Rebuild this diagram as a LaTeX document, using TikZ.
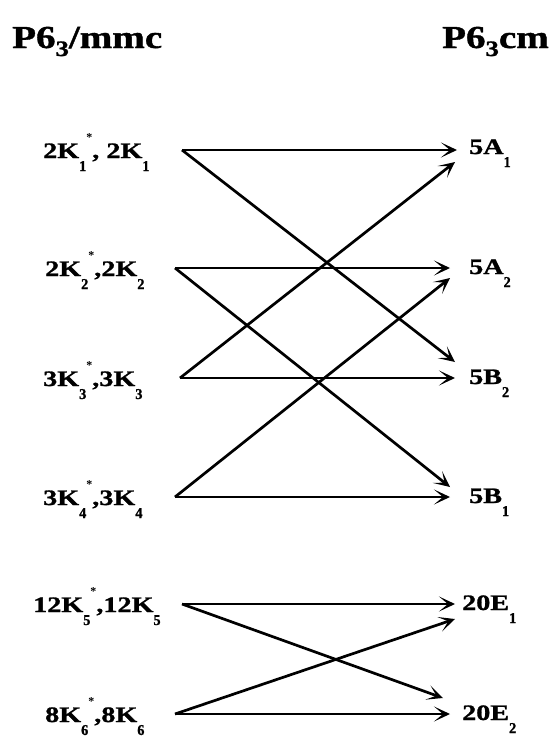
\documentclass[tikz,border=0pt]{standalone}
\usepackage{fontspec}
\newfontfamily\hv{Liberation Serif Bold}[FakeStretch=1.28, FakeBold=1.2]
\newfontfamily\ttlf{Liberation Serif Bold}[FakeStretch=1.22, FakeBold=1.2]
\newfontfamily\subfont{Liberation Serif Bold}[FakeStretch=0.95, FakeBold=1.2]
\newfontfamily\starf{Liberation Serif Bold}
\usetikzlibrary{arrows.meta}
\newcommand\sbs[1]{\raisebox{-13pt}{\fontsize{15}{15}\selectfont\subfont #1}}
\newcommand\stx{\raisebox{17pt}{\fontsize{12}{12}\selectfont\starf *}}
\newcommand\tsub[1]{\raisebox{-8pt}{\fontsize{22}{22}\selectfont\ttlf #1}}
\begin{document}
\begin{tikzpicture}[x=1pt,y=-1pt,
  arr/.style={line width=2.7pt,-{Stealth[length=16pt,width=15pt,inset=9pt]}},
  lab/.style={font=\fontsize{22}{22}\selectfont\hv, inner sep=0pt, anchor=base west},
  ttl/.style={font=\fontsize{32}{32}\selectfont\ttlf, inner sep=0pt}]
\useasboundingbox (0,0) rectangle (553,737);
% titles
\node[ttl, anchor=base west] (t1) at (12,48) {P6\tsub{3}/mmc};
\node[ttl, anchor=base east] (t2) at (549,48) {P6\tsub{3}cm};
% left labels
\node[lab] (k1) at (43,158) {2K\sbs{1}\stx, 2K\sbs{1}};
\node[lab] (k2) at (45,276) {2K\sbs{2}\stx,2K\sbs{2}};
\node[lab] (k3) at (43,386) {3K\sbs{3}\stx,3K\sbs{3}};
\node[lab] (k4) at (43,505) {3K\sbs{4}\stx,3K\sbs{4}};
\node[lab] (k5) at (33,612) {12K\sbs{5}\stx,12K\sbs{5}};
\node[lab] (k6) at (45,722) {8K\sbs{6}\stx,8K\sbs{6}};
% right labels
\node[lab] (a1) at (469,154) {5A\sbs{1}};
\node[lab] (a2) at (469,274) {5A\sbs{2}};
\node[lab] (b2) at (469,384) {5B\sbs{2}};
\node[lab] (b1) at (469,503) {5B\sbs{1}};
\node[lab] (e1) at (462,610) {20E\sbs{1}};
\node[lab] (e2) at (462,720) {20E\sbs{2}};
% start points
\coordinate (s1) at (182,150);
\coordinate (s2) at (175,268);
\coordinate (s3) at (180,378);
\coordinate (s4) at (175,497);
\coordinate (s5) at (182,604);
\coordinate (s6) at (175,714);
% end points
\coordinate (a1h) at (457,150);
\coordinate (a1d) at (455,162);
\coordinate (a2h) at (450,268);
\coordinate (a2d) at (450,278);
\coordinate (b2d) at (455,362);
\coordinate (b2h) at (455,378);
\coordinate (b1d) at (450,487);
\coordinate (b1h) at (450,497);
\coordinate (e1h) at (455,604);
\coordinate (e1d) at (455,619);
\coordinate (e2d) at (443,698);
\coordinate (e2h) at (450,714);
% arrows
\draw[arr] (s1) -- (a1h);
\draw[arr] (s1) -- (b2d);
\draw[arr] (s2) -- (a2h);
\draw[arr] (s2) -- (b1d);
\draw[arr] (s3) -- (a1d);
\draw[arr] (s3) -- (b2h);
\draw[arr] (s4) -- (a2d);
\draw[arr] (s4) -- (b1h);
\draw[arr] (s5) -- (e1h);
\draw[arr] (s5) -- (e2d);
\draw[arr] (s6) -- (e1d);
\draw[arr] (s6) -- (e2h);
\end{tikzpicture}
\end{document}
